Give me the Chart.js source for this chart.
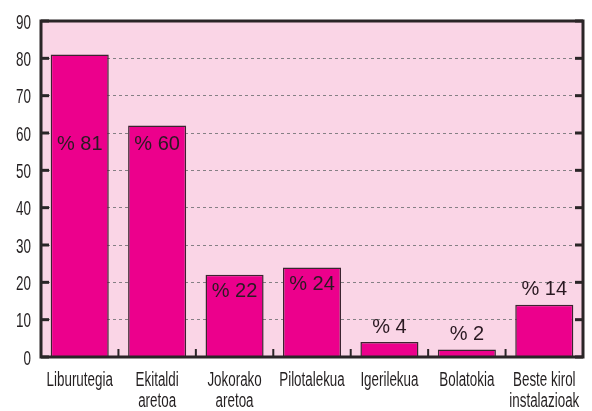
<!DOCTYPE html>
<html><head><meta charset="utf-8">
<script src="https://cdn.jsdelivr.net/npm/chart.js@4/dist/chart.umd.min.js"></script>
<style>html,body{margin:0;padding:0;background:#fff;}#wrap{width:592px;height:411px;}</style>
</head><body><div id="wrap"><canvas id="c" width="592" height="411"></canvas></div>
<script>
const categories = [["Liburutegia"], ["Ekitaldi","aretoa"], ["Jokorako","aretoa"], ["Pilotalekua"], ["Igerilekua"], ["Bolatokia"], ["Beste kirol","instalazioak"]];
const barValues = [81, 62, 22, 24, 4, 2, 14];
const labelValues = [81, 60, 22, 24, 4, 2, 14];
const yTicks = [0, 10, 20, 30, 40, 50, 60, 70, 80, 90];

const AXIS = '#2a2527';
const FAMILY = "'Liberation Sans', Arial, sans-serif";

function narrowText(ctx, text, x, y, align, squeeze) {
  ctx.save();
  ctx.translate(x, y);
  ctx.scale(squeeze, 1);
  ctx.textAlign = align;
  ctx.fillText(text, 0, 0);
  ctx.restore();
}

const framePlugin = {
  id: 'frame',
  afterDatasetsDraw(chart) {
    const {ctx, chartArea: a, scales} = chart;
    const ys = scales.y, xs = scales.x;
    ctx.save();
    // value labels
    ctx.font = "20px " + FAMILY;
    ctx.fillStyle = '#2a1a22';
    ctx.textAlign = 'center';
    ctx.textBaseline = 'middle';
    const meta = chart.getDatasetMeta(0);
    meta.data.forEach((bar, i) => {
      const v = barValues[i];
      let y;
      if (v >= 20) y = Math.max(bar.y + 17, ys.getPixelForValue(57));
      else y = bar.y - 15;
      ctx.fillText('% ' + labelValues[i], bar.x, y);
    });
    // tick labels
    ctx.fillStyle = '#231f20';
    ctx.textBaseline = 'alphabetic';
    ctx.font = "21px " + FAMILY;
    yTicks.forEach(t => {
      narrowText(ctx, String(t), a.left - 10, ys.getPixelForValue(t) + 7.5, 'right', 0.64);
    });
    ctx.font = "20px " + FAMILY;
    categories.forEach((lines, i) => {
      const x = xs.getPixelForValue(i);
      lines.forEach((ln, j) => {
        narrowText(ctx, ln, x, a.bottom + 29 + j * 21, 'center', 0.67);
      });
    });
    // frame
    ctx.strokeStyle = AXIS;
    ctx.lineWidth = 3;
    ctx.beginPath();
    ctx.moveTo(a.left, a.top); ctx.lineTo(a.right, a.top); ctx.lineTo(a.right, a.bottom);
    ctx.lineTo(a.left, a.bottom); ctx.closePath();
    ctx.stroke();
    // inward y ticks
    yTicks.forEach(t => {
      const y = ys.getPixelForValue(t);
      ctx.beginPath(); ctx.moveTo(a.left, y); ctx.lineTo(a.left + 8, y); ctx.stroke();
      ctx.beginPath(); ctx.moveTo(a.right, y); ctx.lineTo(a.right - 8, y); ctx.stroke();
    });
    // x boundary ticks
    ctx.lineWidth = 2;
    for (let i = 1; i < categories.length; i++) {
      const x = (xs.getPixelForValue(i - 1) + xs.getPixelForValue(i)) / 2;
      ctx.beginPath(); ctx.moveTo(x, a.bottom); ctx.lineTo(x, a.bottom - 8); ctx.stroke();
    }
    ctx.restore();
  }
};

const bgPlugin = {
  id: 'bg',
  beforeDraw(chart) {
    const {ctx, chartArea: a} = chart;
    ctx.save();
    ctx.fillStyle = '#fad5e6';
    ctx.fillRect(a.left, a.top, a.right - a.left, a.bottom - a.top);
    ctx.restore();
  }
};

new Chart(document.getElementById('c'), {
  type: 'bar',
  data: {
    labels: categories,
    datasets: [{
      data: barValues,
      backgroundColor: '#ec008c',
      borderColor: '#3b2430',
      borderWidth: 1.5,
      borderSkipped: 'bottom',
      categoryPercentage: 0.75,
      barPercentage: 1.0
    }]
  },
  options: {
    responsive: false,
    animation: false,
    layout: {padding: {left: 0, top: 21, right: 9, bottom: 0}},
    plugins: {legend: {display: false}, tooltip: {enabled: false}},
    scales: {
      x: {
        grid: {display: false, drawTicks: false},
        border: {display: false},
        ticks: {display: false},
        afterFit(s) { s.height = 54; s.paddingLeft = 0; s.paddingRight = 0; }
      },
      y: {
        min: 0, max: 90,
        afterBuildTicks(s) { s.ticks = yTicks.map(v => ({value: v})); },
        grid: {drawTicks: false, color: '#858085', lineWidth: 1},
        border: {display: false, dash: [3, 3]},
        ticks: {display: false},
        afterFit(s) { s.width = 41; s.paddingTop = 0; s.paddingBottom = 0; }
      }
    }
  },
  plugins: [bgPlugin, framePlugin]
});
</script>
</body></html>
